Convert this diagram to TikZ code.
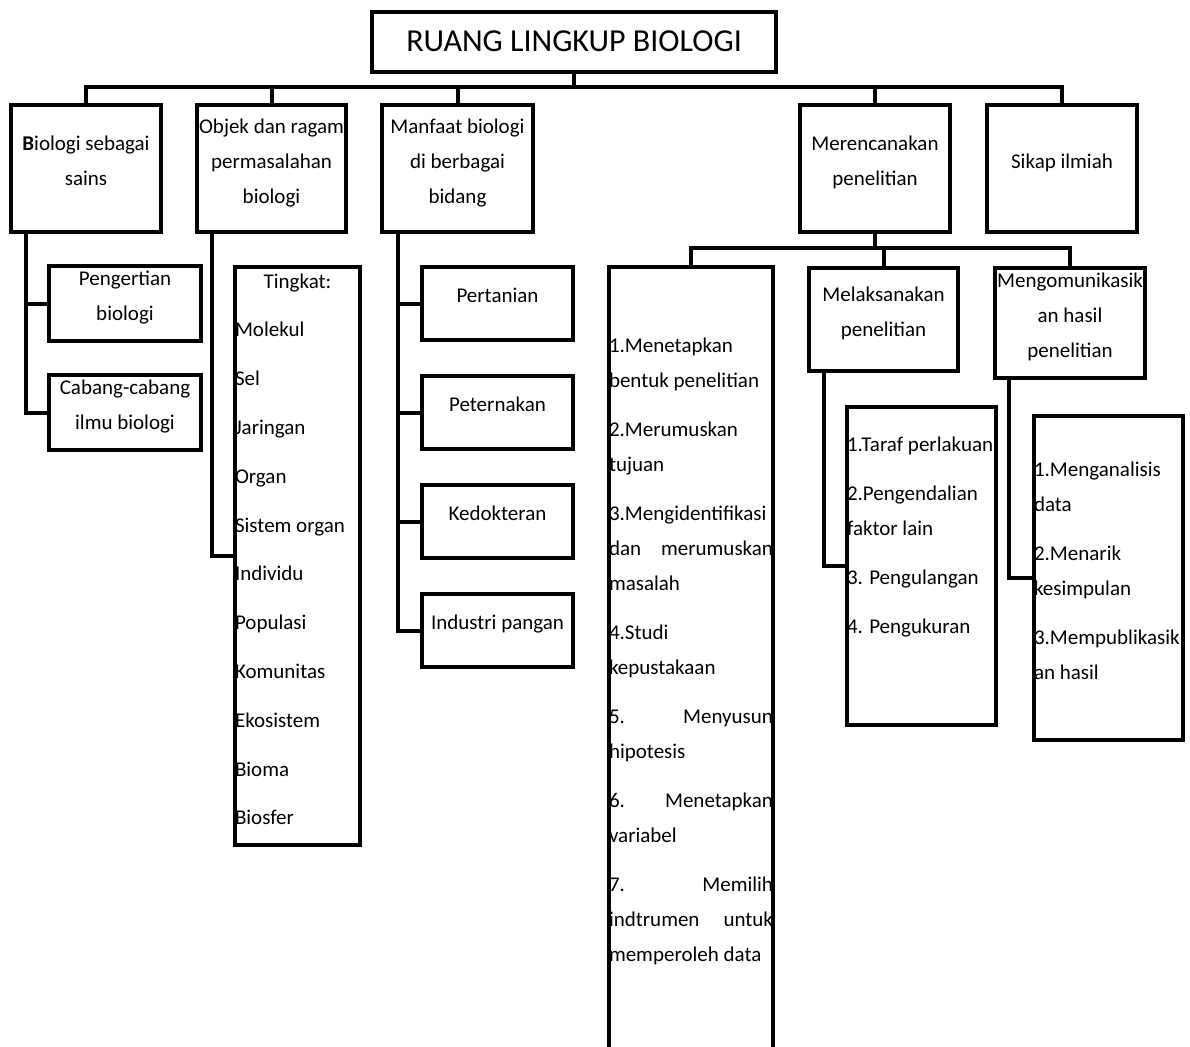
\documentclass[tikz,border=0pt]{standalone}
\usepackage{fontspec}
\setmainfont{Carlito}
\hyphenpenalty=10000
\exhyphenpenalty=10000

\begin{document}
\begin{tikzpicture}[x=1pt, y=-1pt,
    box/.style={draw, line width=4pt, inner sep=0pt, anchor=north, align=flush center,
      font=\fontsize{21}{35}\selectfont},
    list/.style={box, align=flush left},
    link/.style={line width=4pt}]
    \useasboundingbox (0,0) rectangle (1190,1046);
    \clip (0,0) rectangle (1190,1046);

    \node[box, text width=404pt, text height=40pt, text depth=20pt,
      font=\fontsize{32}{38}\selectfont] (ruang) at (574,10) {RUANG LINGKUP BIOLOGI};

    \node[box, text width=150pt, text height=45pt, text depth=82pt] (sains) at (86,103) {\textbf{B}iologi~sebagai\\ sains};
    \node[box, text width=149pt, text height=28pt, text depth=99pt] (objek) at (271.5,103) {Objek~dan~ragam\\ permasalahan\\ biologi};
    \node[box, text width=151pt, text height=28pt, text depth=99pt] (manfaat) at (457.5,103) {Manfaat~biologi\\ di berbagai\\ bidang};
    \node[box, text width=150pt, text height=45pt, text depth=82pt] (rencana) at (875,103) {Merencanakan\\ penelitian};
    \node[box, text width=150pt, text height=63pt, text depth=64pt] (sikap) at (1062,103) {Sikap ilmiah};

    \coordinate (bus) at (574,87);
    \draw[link] (ruang.south) -- (bus);
    \foreach \name in {sains, objek, manfaat, rencana, sikap} {
      \draw[link] (bus) -| (\name.north);
    }

    \foreach [count=\i] \name/\word in {pengertian/Pengertian\\ biologi, cabang/Cabang-cabang\\ ilmu~biologi} {
      \node[box, text width=152pt, text height=19pt, text depth=56pt] (\name) at (125, {264+109*(\i-1)}) {\word};
      \draw[link] ([xshift=-60pt]sains.south) |- (\name.west);
    }

    \node[list, text width=125pt, text height=21pt, text depth=557pt,
      font=\fontsize{21}{48.8}\selectfont] (tingkat) at (297.5,265)
      {\hspace*{\fill}Tingkat:\hspace*{\fill}\mbox{}\\ Molekul\\ Sel\\ Jaringan\\ Organ\\ Sistem~organ\\ Individu\\ Populasi\\ Komunitas\\ Ekosistem\\ Bioma\\ Biosfer};
    \draw[link] ([xshift=-60pt]objek.south) |- (tingkat.west);

    \foreach [count=\i] \name/\word in {pertanian/Pertanian, peternakan/Peternakan, kedokteran/Kedokteran, industri/Industri pangan} {
      \node[box, text width=151pt, text height=35pt, text depth=38pt] (\name) at (497.5, {265+109*(\i-1)}) {\word};
      \draw[link] ([xshift=-60pt]manfaat.south) |- (\name.west);
    }

    \node[list, text width=164pt, text height=85pt, text depth=710pt] (langkah) at (691,265)
      {1.Menetapkan\\ bentuk~penelitian\\[14pt]
       2.Merumuskan\\ tujuan\\[14pt]
       3.Mengidentifikasi\\ dan\hfill merumuskan\\ masalah\\[14pt]
       4.Studi\\ kepustakaan\\[14pt]
       5.\hfill Menyusun\\ hipotesis\\[14pt]
       6.\hfill Menetapkan\\ variabel\\[14pt]
       7.\hfill Memilih\\ indtrumen\hfill untuk\\ memperoleh~data};
    \node[box, text width=149pt, text height=33pt, text depth=70pt] (laksana) at (883.5,266) {Melaksanakan\\ penelitian};
    \node[box, text width=150pt, text height=19pt, text depth=91pt] (komunikasi) at (1070,266) {Mengomunikasik\\ an hasil\\ penelitian};

    \coordinate (subbus) at (875,248);
    \draw[link] (rencana.south) -- (subbus);
    \foreach \name in {langkah, laksana, komunikasi} {
      \draw[link] (subbus) -| (\name.north);
    }

    \node[list, text width=149pt, text height=44pt, text depth=274pt] (taraf) at (921.5,405)
      {1.Taraf~perlakuan\\[14pt] 2.Pengendalian\\ faktor lain\\[14pt] 3. Pengulangan\\[14pt] 4. Pengukuran};
    \draw[link] ([xshift=-60pt]laksana.south) |- (taraf.west);

    \node[list, text width=149pt, text height=60pt, text depth=264pt] (analisis) at (1108.5,414)
      {1.Menganalisis\\ data\\[14pt] 2.Menarik\\ kesimpulan\\[14pt] 3.Mempublikasik\\ an hasil};
    \draw[link] ([xshift=-61pt]komunikasi.south) |- (analisis.west);
  \end{tikzpicture}
\end{document}
